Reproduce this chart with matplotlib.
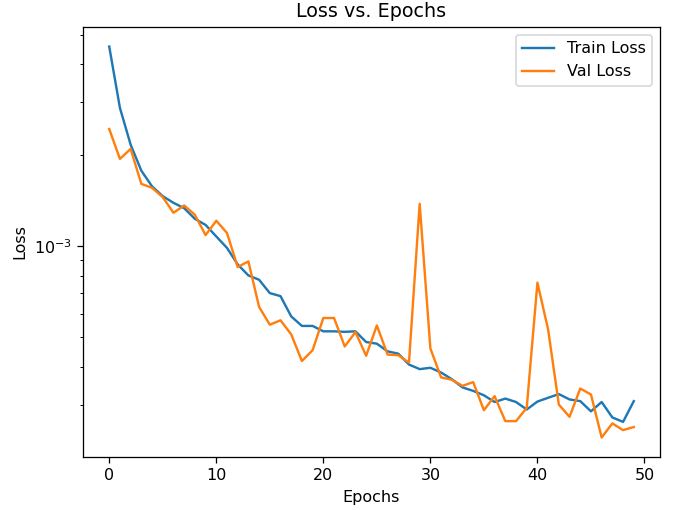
import matplotlib
matplotlib.use("Agg")
import matplotlib.pyplot as plt

epochs = list(range(50))
train_loss = [4.58, 2.87, 2.17, 1.78, 1.58, 1.466, 1.394, 1.338, 1.234, 1.178,
              1.079, 0.989, 0.872, 0.802, 0.776, 0.701, 0.685, 0.587, 0.546, 0.546,
              0.524, 0.524, 0.522, 0.524, 0.483, 0.477, 0.450, 0.442, 0.407, 0.393,
              0.397, 0.383, 0.364, 0.342, 0.333, 0.322, 0.306, 0.314, 0.306, 0.289,
              0.307, 0.316, 0.325, 0.312, 0.308, 0.285, 0.306, 0.272, 0.263, 0.308]
val_loss = [2.445, 1.947, 2.101, 1.610, 1.562, 1.455, 1.292, 1.366, 1.272, 1.090,
            1.216, 1.108, 0.855, 0.892, 0.631, 0.551, 0.570, 0.512, 0.418, 0.454,
            0.580, 0.580, 0.467, 0.521, 0.435, 0.548, 0.439, 0.437, 0.413, 1.383,
            0.460, 0.369, 0.3625, 0.346, 0.356, 0.2875, 0.320, 0.2645, 0.2645, 0.2926,
            0.759, 0.531, 0.300, 0.2733, 0.339, 0.324, 0.2336, 0.260, 0.247, 0.2529]
train_loss = [v * 1e-3 for v in train_loss]
val_loss = [v * 1e-3 for v in val_loss]

DPI = 115
fig = plt.figure(figsize=(675 / DPI, 510 / DPI), dpi=DPI)
ax = fig.add_axes([83 / 675, 1 - 457 / 510, (660 - 83) / 675, (457 - 27) / 510])
ax.plot(epochs, train_loss, label="Train Loss")
ax.plot(epochs, val_loss, label="Val Loss")
ax.set_yscale("log")
ax.set_title("Loss vs. Epochs")
ax.set_xlabel("Epochs")
ax.set_ylabel("Loss")
ax.legend(loc="upper right")
fig.savefig("out.png", dpi=DPI)
